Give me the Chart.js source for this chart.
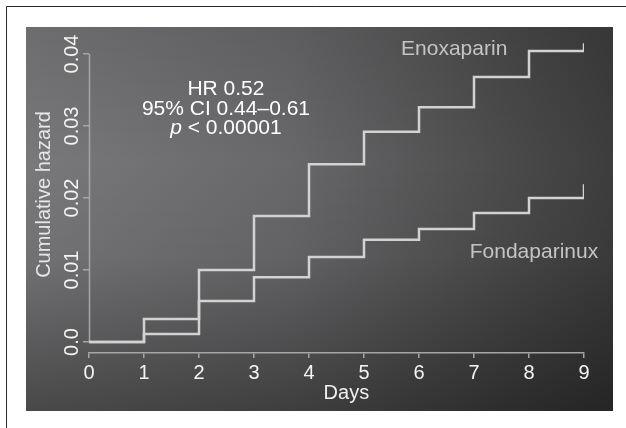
<!DOCTYPE html>
<html>
<head>
<meta charset="utf-8">
<script src="https://cdn.jsdelivr.net/npm/chart.js@4/dist/chart.umd.min.js"></script>
<style>
  html, body { margin: 0; padding: 0; background: #fff; }
  #wrap { width: 626px; height: 428px; position: relative; }
</style>
</head>
<body>
<div id="wrap"><canvas id="c"></canvas></div>
<script>
// Cumulative hazard, step curves per day
const days        = [0, 1, 2, 3, 4, 5, 6, 7, 8, 9];
const enoxaparin  = [0, 0.0032, 0.0100, 0.0175, 0.0247, 0.0292, 0.0326, 0.0368, 0.0404, 0.0415];
const fondaparinux = [0, 0.0011, 0.0057, 0.0090, 0.0118, 0.0142, 0.0157, 0.0179, 0.0200, 0.0219];

const yTickValues = [0, 0.01, 0.02, 0.03, 0.04];
const yTickLabels = ['0.0', '0.01', '0.02', '0.03', '0.04'];

const annotLines = ['HR 0.52', '95% CI 0.44\u20130.61', '< 0.00001'];

const FONT = '"Liberation Sans", Arial, Helvetica, sans-serif';
const LINE = '#d2d2d2';
const AXIS = '#a6a6a6';

const toXY = vals => days.map((d, i) => ({ x: d, y: vals[i] }));

// panel, frame, y axis line and free text are drawn here
const decor = {
  id: 'decor',
  beforeDraw(chart) {
    const ctx = chart.ctx;
    ctx.save();
    ctx.fillStyle = '#fff';
    ctx.fillRect(0, 0, chart.width, chart.height);
    // thin frame (top + left)
    ctx.strokeStyle = '#2a2a2a';
    ctx.lineWidth = 1;
    ctx.beginPath();
    ctx.moveTo(6.5, chart.height);
    ctx.lineTo(6.5, 6.5);
    ctx.lineTo(chart.width, 6.5);
    ctx.stroke();
    // dark gradient panel
    const x0 = 26, y0 = 27, x1 = 613, y1 = 411;
    const gh = ctx.createLinearGradient(x0, 0, x1, 0);
    gh.addColorStop(0, '#79797b');
    gh.addColorStop(0.45, '#68686a');
    gh.addColorStop(0.8, '#4c4c4d');
    gh.addColorStop(1, '#3d3d3d');
    ctx.fillStyle = gh;
    ctx.fillRect(x0, y0, x1 - x0, y1 - y0);
    const gv = ctx.createLinearGradient(0, y0, 0, y1);
    gv.addColorStop(0, 'rgba(0,0,0,0.10)');
    gv.addColorStop(0.35, 'rgba(0,0,0,0)');
    gv.addColorStop(0.6, 'rgba(0,0,0,0.06)');
    gv.addColorStop(1, 'rgba(0,0,0,0.40)');
    ctx.fillStyle = gv;
    ctx.fillRect(x0, y0, x1 - x0, y1 - y0);
    ctx.restore();
  },
  beforeDatasetsDraw(chart) {
    const { ctx, scales: { x, y } } = chart;
    const px = Math.round(x.getPixelForValue(0)) + 0.5;
    ctx.save();
    ctx.strokeStyle = AXIS;
    ctx.lineWidth = 1.5;
    ctx.beginPath();
    ctx.moveTo(px, y.getPixelForValue(yTickValues[0]));
    ctx.lineTo(px, y.getPixelForValue(yTickValues[yTickValues.length - 1]));
    ctx.stroke();
    ctx.restore();
  },
  afterDraw(chart) {
    const { ctx, scales: { x, y } } = chart;
    ctx.save();
    // rotated y tick labels
    ctx.fillStyle = '#f4f4f4';
    ctx.font = '20px ' + FONT;
    ctx.textAlign = 'center';
    ctx.textBaseline = 'middle';
    yTickValues.forEach((v, i) => {
      ctx.save();
      ctx.translate(72, y.getPixelForValue(v));
      ctx.rotate(-Math.PI / 2);
      ctx.fillText(yTickLabels[i], 0, 0);
      ctx.restore();
    });
    // x axis title, a little right of centre as in the original
    ctx.fillStyle = '#f0f0f0';
    ctx.fillText('Days', x.getPixelForValue(4.68), 393);
    // HR annotation
    const ax = x.getPixelForValue(2.49);
    ctx.fillStyle = '#ffffff';
    ctx.font = '21px ' + FONT;
    ctx.fillText(annotLines[0], ax, y.getPixelForValue(0.0351));
    ctx.fillText(annotLines[1], ax, y.getPixelForValue(0.0323));
    const py = y.getPixelForValue(0.0297);
    ctx.font = 'italic 21px ' + FONT;
    const pw = ctx.measureText('p ').width;
    ctx.font = '21px ' + FONT;
    const rw = ctx.measureText(annotLines[2]).width;
    const startX = ax - (pw + rw) / 2;
    ctx.textAlign = 'left';
    ctx.font = 'italic 21px ' + FONT;
    ctx.fillText('p', startX, py);
    ctx.font = '21px ' + FONT;
    ctx.fillText(annotLines[2], startX + pw, py);
    // series labels
    ctx.textAlign = 'center';
    ctx.fillStyle = '#c4c4c4';
    ctx.font = '21px ' + FONT;
    ctx.fillText('Enoxaparin', x.getPixelForValue(6.64), y.getPixelForValue(0.0407));
    ctx.fillText('Fondaparinux', x.getPixelForValue(8.09), y.getPixelForValue(0.0125));
    ctx.restore();
  }
};

new Chart(document.getElementById('c'), {
  type: 'line',
  data: {
    datasets: [
      {
        label: 'Enoxaparin',
        data: toXY(enoxaparin),
        stepped: 'before',
        borderColor: LINE,
        borderWidth: 2.5,
        pointRadius: 0,
        fill: false,
      },
      {
        label: 'Fondaparinux',
        data: toXY(fondaparinux),
        stepped: 'before',
        borderColor: LINE,
        borderWidth: 2.5,
        pointRadius: 0,
        fill: false,
      },
    ],
  },
  options: {
    responsive: true,
    maintainAspectRatio: false,
    animation: false,
    layout: { padding: { left: 0, right: 42, top: 36, bottom: 0 } },
    plugins: {
      legend: { display: false },
      tooltip: { enabled: false },
    },
    scales: {
      x: {
        type: 'linear',
        min: 0,
        max: 9,
        afterBuildTicks: s => { s.ticks = days.map(v => ({ value: v })); },
        afterFit: s => { s.height = 75; },
        grid: {
          drawOnChartArea: false,
          drawTicks: true,
          tickLength: 5,
          color: AXIS,
          lineWidth: 1.5,
        },
        border: { display: true, color: AXIS, width: 1.5 },
        ticks: {
          color: '#f4f4f4',
          padding: 3,
          maxRotation: 0,
          font: { size: 20, family: FONT },
        },
        title: { display: false },
      },
      y: {
        min: -0.00153,
        max: 0.0425,
        afterBuildTicks: s => { s.ticks = yTickValues.map(v => ({ value: v })); },
        afterFit: s => { s.width = 89; },
        grid: {
          drawOnChartArea: false,
          drawTicks: true,
          tickLength: 6,
          color: AXIS,
          lineWidth: 1.5,
        },
        border: { display: false },
        ticks: { display: false },
        title: {
          display: true,
          text: 'Cumulative hazard',
          color: '#e6e6e6',
          padding: { top: 32, bottom: 0 },
          font: { size: 20, family: FONT },
        },
      },
    },
  },
  plugins: [decor],
});
</script>
</body>
</html>
